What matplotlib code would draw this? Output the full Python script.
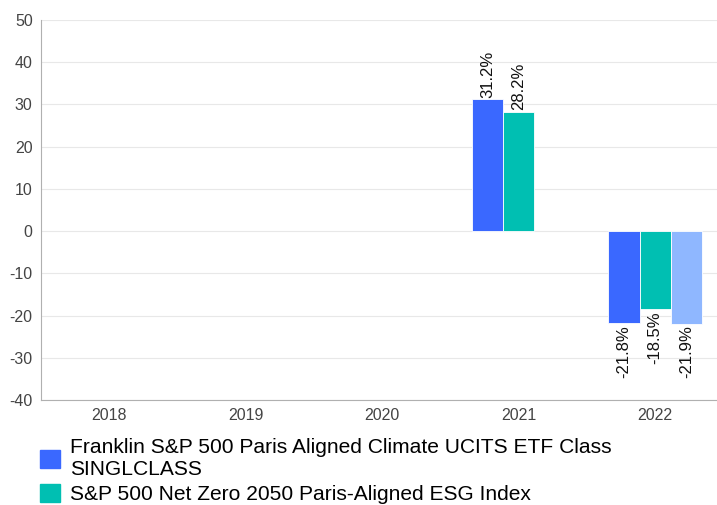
import numpy as np
import matplotlib
matplotlib.use('Agg')
import matplotlib.pyplot as plt
from matplotlib.patches import Patch

plt.rcParams['font.family'] = ['Liberation Sans', 'DejaVu Sans']
plt.rcParams['axes.unicode_minus'] = False

# Data
years = ['2018', '2019', '2020', '2021', '2022']
fund = [np.nan, np.nan, np.nan, 31.2, -21.8]
index = [np.nan, np.nan, np.nan, 28.2, -18.5]
category = [np.nan, np.nan, np.nan, np.nan, -21.9]
series_names = ['Franklin S&P 500 Paris Aligned Climate UCITS ETF Class\nSINGLCLASS',
                'S&P 500 Net Zero 2050 Paris-Aligned ESG Index']
colors = ['#3A68FF', '#00BFB2', '#8FB7FF']

fig = plt.figure(figsize=(7.17, 5.05), dpi=100)
ax = fig.add_axes([41 / 717, 105 / 505, 682.5 / 717, 380 / 505])

x = np.arange(len(years))
w = 0.23
for i, (vals, c) in enumerate(zip([fund, index, category], colors)):
    pos = x + (i - 1) * w
    ax.bar(pos, vals, width=w, color=c, edgecolor='white', linewidth=0.6, zorder=3)
    for p, v in zip(pos, vals):
        if np.isnan(v):
            continue
        if v >= 0:
            ax.text(p, v + 0.4, f'{v:.1f}%', rotation=90, ha='center', va='bottom',
                    fontsize=12, color='#111111')
        else:
            ax.text(p, v - 0.4, f'{v:.1f}%', rotation=90, ha='center', va='top',
                    fontsize=12, color='#111111')

ax.set_xlim(-0.5, len(years) - 0.5)
ax.set_ylim(-40, 50)
ax.set_yticks(range(-40, 51, 10))
ax.set_xticks(x)
ax.set_xticklabels(years)
ax.grid(axis='y', color='#e8e8e8', linewidth=0.8, zorder=0)
ax.tick_params(axis='both', length=0, labelsize=11.5, labelcolor='#444444')
ax.tick_params(axis='x', pad=6)
ax.tick_params(axis='y', pad=6)
for s in ['top', 'right']:
    ax.spines[s].set_visible(False)
for s in ['left', 'bottom']:
    ax.spines[s].set_color('#b0b0b0')
    ax.spines[s].set_linewidth(0.8)

handles = [Patch(color=colors[0]), Patch(color=colors[1])]
fig.legend(handles, series_names, loc='upper left', bbox_to_anchor=(32 / 717, 1 - 430 / 505),
           frameon=False, fontsize=15.1, handlelength=0.95, handleheight=0.95,
           handletextpad=0.45, labelspacing=0.2, borderaxespad=0)

fig.savefig('out.png', dpi=100)
